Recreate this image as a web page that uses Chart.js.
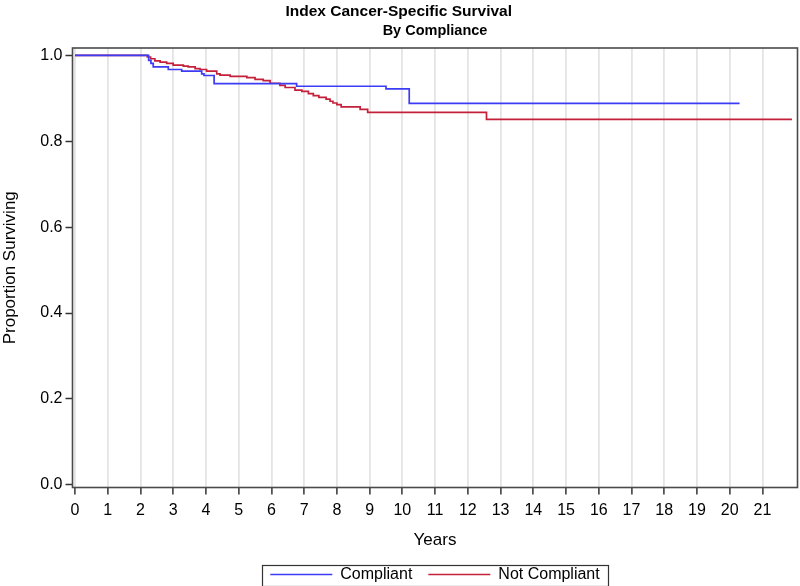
<!DOCTYPE html>
<html>
<head>
<meta charset="utf-8">
<script src="https://cdn.jsdelivr.net/npm/chart.js@4/dist/chart.umd.min.js"></script>
<style>
html,body{margin:0;padding:0;background:#fff;}
#c{display:block;}
</style>
</head>
<body>
<canvas id="c" width="800" height="586"></canvas>
<script>
// ---- data ----
const seriesNames = ["Compliant", "Not Compliant"];
const compliantYears = [0, 2.24, 2.25, 2.32, 2.39, 2.85, 3.26, 3.87, 3.94, 4.25, 6.77, 9.50, 10.21, 20.3];
const compliantSurv  = [1.0, 1.0, 0.988, 0.981, 0.973, 0.967, 0.963, 0.957, 0.953, 0.934, 0.928, 0.922, 0.888, 0.888];
const notCompliantYears = [0, 2.14, 2.21, 2.31, 2.44, 2.60, 2.80, 3.00, 3.31, 3.46, 3.67, 3.82, 4.02, 4.33, 4.43, 4.74, 5.25, 5.50, 5.75, 5.96, 6.26, 6.42, 6.72, 6.93, 7.13, 7.28, 7.45, 7.67, 7.79, 7.88, 8.00, 8.13, 8.71, 8.94, 12.57, 21.9];
const notCompliantSurv  = [1.0, 1.0, 0.996, 0.992, 0.987, 0.984, 0.981, 0.977, 0.975, 0.973, 0.969, 0.967, 0.963, 0.957, 0.954, 0.951, 0.948, 0.944, 0.941, 0.935, 0.930, 0.925, 0.919, 0.916, 0.911, 0.906, 0.902, 0.898, 0.893, 0.889, 0.885, 0.880, 0.874, 0.867, 0.851, 0.851];
const xTickValues = [0,1,2,3,4,5,6,7,8,9,10,11,12,13,14,15,16,17,18,19,20,21];
const yTickValues = [0, 0.2, 0.4, 0.6, 0.8, 1.0];

const FONT = "'Liberation Sans', Arial, Helvetica, sans-serif";
const zip = (xs, ys) => xs.map((x, i) => ({x: x, y: ys[i]}));

const framePlugin = {
  id: 'frame',
  afterDraw(chart) {
    const {ctx, chartArea: a} = chart;
    ctx.save();
    ctx.strokeStyle = '#4a4a4a';
    ctx.lineWidth = 1.6;
    ctx.strokeRect(a.left, a.top, a.right - a.left, a.bottom - a.top);
    const lg = chart.legend;
    if (lg && lg.legendHitBoxes && lg.legendHitBoxes.length) {
      const hb = lg.legendHitBoxes;
      const l = Math.min(...hb.map(h => h.left)) - 8;
      const r = Math.max(...hb.map(h => h.left + h.width)) + 9;
      const t = Math.min(...hb.map(h => h.top)) - 2;
      const b = Math.max(...hb.map(h => h.top + h.height)) + 3;
      ctx.strokeStyle = '#333';
      ctx.lineWidth = 1.2;
      ctx.strokeRect(Math.round(l) + 0.5, Math.round(t) + 0.5, Math.round(r - l), Math.round(b - t));
    }
    ctx.restore();
  }
};

const legendFix = {
  id: 'legendFix',
  beforeLayout(chart) {
    const lg = chart.legend;
    if (lg && !lg._patched) {
      const f = lg.fit.bind(lg);
      lg.fit = function () { f(); this.height = 35.5; };
      lg._patched = true;
    }
  }
};

new Chart(document.getElementById('c'), {
  type: 'line',
  data: {
    datasets: [
      {
        label: seriesNames[0],
        data: zip(compliantYears, compliantSurv),
        borderColor: '#3c3cf5',
        backgroundColor: '#3c3cf5',
        borderWidth: 1.7,
        stepped: 'before',
        pointRadius: 0,
        fill: false
      },
      {
        label: seriesNames[1],
        data: zip(notCompliantYears, notCompliantSurv),
        borderColor: '#c4203a',
        backgroundColor: '#c4203a',
        borderWidth: 1.7,
        stepped: 'before',
        pointRadius: 0,
        fill: false
      }
    ]
  },
  options: {
    responsive: false,
    animation: false,
    devicePixelRatio: 1,
    layout: {padding: {left: 0, right: 2.5, top: 0, bottom: 0}},
    plugins: {
      title: {
        display: true,
        text: 'Index Cancer-Specific Survival',
        fullSize: true,
        color: '#000',
        font: {family: FONT, size: 15.5, weight: 'bold', lineHeight: 1.2},
        padding: {top: 2, bottom: 0}
      },
      subtitle: {
        display: true,
        text: 'By Compliance',
        fullSize: false,
        color: '#000',
        font: {family: FONT, size: 14.5, weight: 'bold', lineHeight: 1.2},
        padding: {top: 2, bottom: 8}
      },
      legend: {
        display: true,
        position: 'bottom',
        fullSize: false,
        labels: {
          usePointStyle: true,
          pointStyle: 'line',
          pointStyleWidth: 62,
          color: '#000',
          padding: 16,
          font: {family: FONT, size: 16}
        }
      },
      tooltip: {enabled: false}
    },
    scales: {
      x: {
        type: 'linear',
        min: -0.076,
        max: 22.07,
        afterBuildTicks(s) { s.ticks = xTickValues.map(v => ({value: v})); },
        afterFit(s) { s.height = 63; },
        ticks: {
          color: '#000',
          font: {family: FONT, size: 16},
          padding: 6,
          maxRotation: 0,
          autoSkip: false,
          callback: v => String(v)
        },
        grid: {
          display: true,
          drawOnChartArea: true,
          drawTicks: true,
          tickLength: 7,
          color: '#e4e4e4',
          tickColor: '#333',
          lineWidth: 1.8,
          tickWidth: 1.5
        },
        border: {display: false},
        title: {
          display: true,
          text: 'Years',
          color: '#000',
          font: {family: FONT, size: 17, lineHeight: 1.2},
          padding: {top: 0, bottom: 0}
        }
      },
      y: {
        type: 'linear',
        min: -0.006,
        max: 1.017,
        afterBuildTicks(s) { s.ticks = yTickValues.map(v => ({value: v})); },
        afterFit(s) { s.width = 72.5; },
        ticks: {
          color: '#000',
          font: {family: FONT, size: 16},
          padding: 3,
          autoSkip: false,
          callback: v => Number(v).toFixed(1)
        },
        grid: {
          display: true,
          drawOnChartArea: false,
          drawTicks: true,
          tickLength: 7,
          tickColor: '#333',
          tickWidth: 1.5
        },
        border: {display: false},
        title: {
          display: true,
          text: 'Proportion Surviving',
          color: '#000',
          font: {family: FONT, size: 17, lineHeight: 1.2},
          padding: {top: 0, bottom: 0}
        }
      }
    }
  },
  plugins: [legendFix, framePlugin]
});
</script>
</body>
</html>
